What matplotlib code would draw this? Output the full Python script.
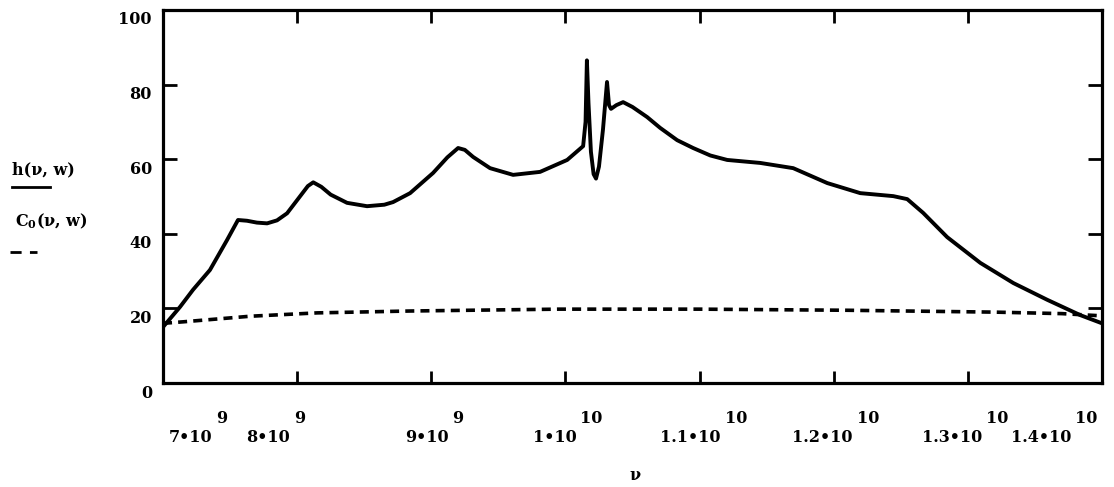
import matplotlib
matplotlib.use("Agg")
import matplotlib.pyplot as plt
from matplotlib.lines import Line2D

# ---------------- data ----------------
nu_h = [7.000e9, 7.127e9, 7.224e9, 7.350e9, 7.477e9, 7.559e9, 7.626e9, 7.700e9,
        7.776e9, 7.850e9, 7.925e9, 8.010e9, 8.080e9, 8.120e9, 8.180e9, 8.250e9,
        8.372e9, 8.521e9, 8.650e9, 8.715e9, 8.842e9, 9.013e9, 9.120e9, 9.200e9,
        9.250e9, 9.312e9, 9.438e9, 9.610e9, 9.811e9, 10.013e9, 10.132e9, 10.150e9,
        10.160e9, 10.172e9, 10.190e9, 10.210e9, 10.228e9, 10.250e9, 10.280e9,
        10.310e9, 10.325e9, 10.340e9, 10.380e9, 10.430e9, 10.500e9, 10.609e9,
        10.706e9, 10.833e9, 10.952e9, 11.080e9, 11.206e9, 11.452e9, 11.698e9,
        11.952e9, 12.198e9, 12.444e9, 12.548e9, 12.667e9, 12.846e9, 13.093e9,
        13.339e9, 13.592e9, 13.838e9, 14.000e9]
h_vals = [15.0, 20.4, 25.0, 30.3, 38.3, 43.7, 43.5, 43.0,
          42.8, 43.6, 45.5, 49.5, 52.8, 53.8, 52.6, 50.5,
          48.3, 47.4, 47.8, 48.5, 50.9, 56.3, 60.5, 63.0,
          62.5, 60.6, 57.6, 55.8, 56.6, 59.8, 63.5, 70.0,
          86.5, 75.0, 62.0, 56.0, 54.8, 58.0, 68.0,
          80.7, 74.5, 73.5, 74.5, 75.3, 74.0, 71.3,
          68.4, 65.1, 63.0, 61.0, 59.8, 59.0, 57.6,
          53.6, 50.9, 50.1, 49.3, 45.6, 39.1, 32.2,
          26.8, 22.3, 18.2, 16.0]

nu_c = [7.00e9, 7.15e9, 7.35e9, 7.65e9, 8.15e9, 8.84e9, 9.95e9, 11.0e9,
        12.1e9, 13.2e9, 13.7e9, 14.0e9]
c_vals = [16.0, 16.4, 17.0, 17.9, 18.8, 19.3, 19.8, 19.8,
          19.5, 19.0, 18.6, 18.0]

x_ticks = [7e9, 8e9, 9e9, 1e10, 1.1e10, 1.2e10, 1.3e10, 1.4e10]
x_mant = ["7\u202210", "8\u202210", "9\u202210", "1\u202210",
          "1.1\u202210", "1.2\u202210", "1.3\u202210", "1.4\u202210"]
x_exp = ["9", "9", "9", "10", "10", "10", "10", "10"]
y_ticks = [0, 20, 40, 60, 80, 100]
y_labels = ["0", "20", "40", "60", "80", "100"]

# ---------------- layout ----------------
W, H, DPI = 1114, 487, 100
PT = 72.0 / DPI  # points per pixel
FONT = "DejaVu Serif"
FS = 11.5

plt.rcParams["mathtext.fontset"] = "custom"
plt.rcParams["mathtext.rm"] = "DejaVu Serif:bold"
plt.rcParams["mathtext.bf"] = "DejaVu Serif:bold"

fig = plt.figure(figsize=(W / DPI, H / DPI), dpi=DPI)
ax = fig.add_axes([163 / W, 1 - 383 / H, 939 / W, 373 / H])

ax.plot(nu_h, h_vals, color="black", lw=2.8, solid_joinstyle="round",
        solid_capstyle="butt")
ax.plot(nu_c, c_vals, color="black", lw=2.6, linestyle=(0, (2.5, 1.7)),
        dash_capstyle="butt")

ax.set_xlim(7e9, 1.4e10)
ax.set_ylim(0, 100)
for s in ax.spines.values():
    s.set_linewidth(2.3)

ax.set_xticks(x_ticks[1:-1])
ax.set_yticks(y_ticks[1:-1])
ax.tick_params(axis="both", direction="in", width=2.0, labelleft=False,
               labelbottom=False, top=True, right=True)
ax.tick_params(axis="x", length=9)
ax.tick_params(axis="y", length=10)

# y tick labels (placed slightly below their ticks, as in the original)
for v, lab in zip(y_ticks, y_labels):
    ax.annotate(lab, xy=(0, v), xycoords=("axes fraction", "data"),
                xytext=(-11 * PT, -10 * PT), textcoords="offset points",
                ha="right", va="center", fontsize=FS, fontweight="bold",
                family=FONT)

# x tick labels: mantissa + raised exponent
mant_end_px = [49, -7, 17, 11, 21, 19, 14, -31]
for xv, m, e, dx in zip(x_ticks, x_mant, x_exp, mant_end_px):
    ax.annotate(m, xy=(xv, 0), xycoords=("data", "axes fraction"),
                xytext=(dx * PT, -59 * PT), textcoords="offset points",
                ha="right", va="baseline", fontsize=FS, fontweight="bold",
                family=FONT)
    ax.annotate(e, xy=(xv, 0), xycoords=("data", "axes fraction"),
                xytext=((dx + 4) * PT, -40 * PT), textcoords="offset points",
                ha="left", va="baseline", fontsize=FS, fontweight="bold",
                family=FONT)

# x axis title
fig.text(635 / W, 1 - 475 / H, "\u03bd", ha="center", va="center",
         fontsize=FS, fontweight="bold", family=FONT)

# y axis trace labels
fig.text(12 / W, 1 - 170 / H, "h(\u03bd, w)", ha="left", va="center",
         fontsize=FS, fontweight="bold", family=FONT)
fig.add_artist(Line2D([12 / W, 50 / W], [1 - 187 / H, 1 - 187 / H],
                      transform=fig.transFigure, color="black", lw=2.0))
fig.text(15 / W, 1 - 221 / H, "C$_{\\mathrm{0}}$(\u03bd, w)",
         ha="left", va="center", fontsize=FS, fontweight="bold", family=FONT)
fig.add_artist(Line2D([10 / W, 37 / W], [1 - 252 / H, 1 - 252 / H],
                      transform=fig.transFigure, color="black", lw=2.0,
                      linestyle=(0, (4, 3))))

fig.savefig("out.png", dpi=DPI)
